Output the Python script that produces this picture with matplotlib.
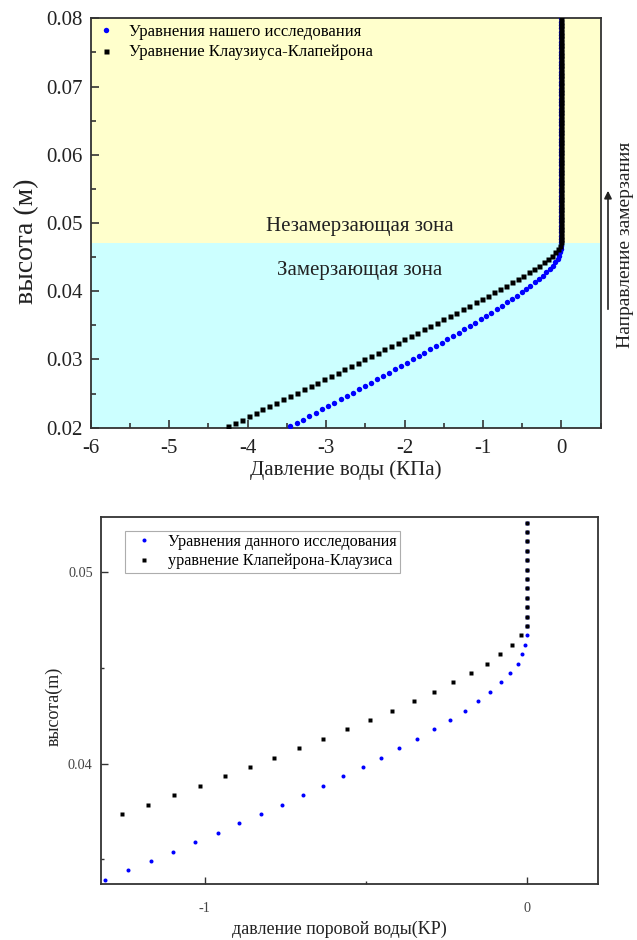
import numpy as np
import matplotlib.pyplot as plt
from matplotlib.ticker import MultipleLocator
from matplotlib.patches import FancyArrowPatch

plt.rcParams['font.family'] = ['Liberation Serif', 'DejaVu Serif']

# node heights (m), uniform mesh step 0.49 mm from 0.0202 m up to 0.08 m
dz = 0.00049
height = 0.02022 + dz * np.arange(123)

# pore water pressure (kPa), this study
p_ours = np.array([
    -3.455, -3.374, -3.293, -3.212, -3.132, -3.052, -2.973, -2.894, -2.815,
    -2.736, -2.658, -2.580, -2.503, -2.426, -2.349, -2.273, -2.197, -2.121,
    -2.046, -1.971, -1.896, -1.822, -1.748, -1.674, -1.601, -1.528, -1.455,
    -1.383, -1.310, -1.238, -1.167, -1.098, -1.029, -0.960, -0.892, -0.825,
    -0.760, -0.695, -0.632, -0.570, -0.509, -0.451, -0.395, -0.341, -0.287,
    -0.238, -0.192, -0.150, -0.112, -0.078, -0.050, -0.027, -0.014, -0.004,
    0.0] + [0.0] * 68)

# pore water pressure (kPa), Clausius-Clapeyron
p_cc = np.array([
    -4.255, -4.166, -4.077, -3.988, -3.899, -3.811, -3.723, -3.635, -3.547,
    -3.459, -3.372, -3.285, -3.198, -3.111, -3.025, -2.939, -2.853, -2.767,
    -2.681, -2.596, -2.511, -2.426, -2.341, -2.256, -2.172, -2.088, -2.004,
    -1.920, -1.837, -1.754, -1.671, -1.588, -1.505, -1.423, -1.341, -1.258,
    -1.176, -1.095, -1.015, -0.937, -0.859, -0.783, -0.708, -0.632, -0.559,
    -0.487, -0.418, -0.351, -0.287, -0.228, -0.171, -0.123, -0.081, -0.045,
    -0.017, 0.0] + [0.0] * 67)

freeze_front = 0.047
W, H = 637, 940

fig = plt.figure(figsize=(W / 100, H / 100), dpi=100)

# ---- upper chart
ax1 = fig.add_axes([90.7 / W, 1 - 427.7 / H, 510 / W, 409.4 / H])
ax1.axhspan(freeze_front, 0.08, color='#FFFFCC', lw=0, zorder=0)
ax1.axhspan(0.02, freeze_front, color='#CCFFFF', lw=0, zorder=0)
ax1.plot(p_ours, height, 'o', color='#0000FF', ms=3.9, mec='none',
         label='Уравнения нашего исследования', zorder=3)
ax1.plot(p_cc, height, 's', color='black', ms=3.6, mec='none',
         label='Уравнение Клаузиуса-Клапейрона', zorder=4)
ax1.set_xlim(-6, 0.5)
ax1.set_ylim(0.02, 0.08)
ax1.set_xticks([-6, -5, -4, -3, -2, -1, 0])
ax1.set_xticklabels(['-6', '-5', '-4', '-3', '-2', '-1', '0'])
ax1.xaxis.set_minor_locator(MultipleLocator(0.5))
ax1.set_yticks([0.02, 0.03, 0.04, 0.05, 0.06, 0.07, 0.08])
ax1.set_yticklabels(['0.02', '0.03', '0.04', '0.05', '0.06', '0.07', '0.08'])
ax1.yaxis.set_minor_locator(MultipleLocator(0.005))
ax1.tick_params(which='both', direction='in', labelsize=15, width=1.2,
                color='#333333', labelcolor='#222222')
ax1.tick_params(which='major', length=6)
ax1.tick_params(which='minor', length=3.5)
ax1.tick_params(axis='x', pad=8)
ax1.tick_params(axis='y', pad=6)
ax1.set_xlabel('Давление воды (КПа)', fontsize=15, color='#222222')
ax1.xaxis.set_label_coords(0.5, -0.079)
ax1.set_ylabel('высота (м)', fontsize=20, color='#222222')
ax1.yaxis.set_label_coords(-0.101, 0.456)
for s in ax1.spines.values():
    s.set_linewidth(1.3)
    s.set_color('#333333')
ax1.text(-2.57, 0.0495, 'Незамерзающая зона', fontsize=15, ha='center',
         va='center', color='#222222')
ax1.text(-2.57, 0.0430, 'Замерзающая зона', fontsize=15, ha='center',
         va='center', color='#222222')
ax1.legend(loc='upper left', bbox_to_anchor=(0, 1 - 2 / 409.4), frameon=False,
           fontsize=12, borderaxespad=0, borderpad=0.2, handlelength=1.45,
           handletextpad=0.67, labelspacing=0.29)

# freezing direction arrow on the right
fig.add_artist(FancyArrowPatch(
    (608 / W, 1 - 312 / H), (608 / W, 1 - 188 / H),
    transform=fig.transFigure, arrowstyle='-|>', mutation_scale=11,
    lw=1.2, color='#222222'))
fig.text(626 / W, 1 - 245 / H, 'Направление замерзания', rotation=90,
         ha='center', va='center', fontsize=14, color='#222222')

# ---- lower chart (close-up of the freezing zone)
ax2 = fig.add_axes([101 / W, 1 - 884.3 / H, 497 / W, 367 / H])
ax2.plot(p_ours, height, 'o', color='#0000FF', ms=2.9, mec='none',
         label='Уравнения данного исследования', zorder=3)
ax2.plot(p_cc, height, 's', color='black', ms=2.9, mec='none',
         label='уравнение Клапейрона-Клаузиса', zorder=4)
ax2.set_xlim(-1.322, 0.222)
ax2.set_ylim(0.0337, 0.05284)
ax2.set_xticks([-1, 0])
ax2.set_xticklabels(['-1', '0'])
ax2.xaxis.set_minor_locator(MultipleLocator(0.5))
ax2.set_yticks([0.04, 0.05])
ax2.set_yticklabels(['0.04', '0.05'])
ax2.yaxis.set_minor_locator(MultipleLocator(0.005))
ax2.tick_params(which='both', direction='in', labelsize=10.3, width=1.0,
                color='#333333', labelcolor='#444444')
ax2.tick_params(which='major', length=5)
ax2.tick_params(which='minor', length=2.5)
ax2.tick_params(axis='x', pad=13)
ax2.tick_params(axis='y', pad=6)
ax2.set_xlabel('давление поровой воды(KP)', fontsize=13, color='#222222')
ax2.xaxis.set_label_coords(0.479, -0.1)
ax2.set_ylabel('высота(m)', fontsize=13, color='#222222')
ax2.yaxis.set_label_coords(-0.0765, 0.486)
for s in ax2.spines.values():
    s.set_linewidth(1.3)
    s.set_color('#333333')
leg = ax2.legend(loc='upper left', fontsize=11.6, frameon=True, fancybox=False,
                 edgecolor='#999999', borderaxespad=0, borderpad=0.2,
                 handlelength=2.0, handletextpad=0.47, labelspacing=0.22,
                 bbox_to_anchor=((124.7 - 101) / 497, 1 - (530.7 - 517.3) / 367))
leg.get_frame().set_linewidth(0.8)

fig.savefig('out.png', dpi=100)
